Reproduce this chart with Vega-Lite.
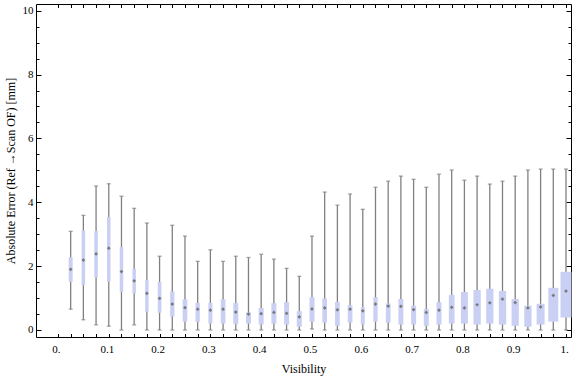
{
  "$schema": "https://vega.github.io/schema/vega-lite/v6.json",
  "width": 535,
  "height": 333,
  "autosize": {"type": "none"},
  "padding": {"left": 36, "top": 4, "right": 5, "bottom": 40},
  "background": "white",
  "config": {
    "view": {"stroke": "#000", "strokeWidth": 1},
    "axis": {
      "grid": false,
      "domain": false,
      "labelFont": "Liberation Serif",
      "titleFont": "Liberation Serif",
      "labelFontSize": 11,
      "titleFontSize": 12,
      "labelColor": "#000",
      "titleColor": "#000",
      "titleFontWeight": "normal",
      "tickColor": "#000",
      "tickWidth": 1
    }
  },
  "data": {
    "values": [
      {"x": 0.025, "lo": 0.65, "q1": 1.51, "med": 1.90, "q3": 2.28, "hi": 3.09, "n": 400},
      {"x": 0.05, "lo": 0.32, "q1": 1.40, "med": 2.19, "q3": 3.12, "hi": 3.59, "n": 350},
      {"x": 0.075, "lo": 0.16, "q1": 1.64, "med": 2.38, "q3": 3.10, "hi": 4.51, "n": 350},
      {"x": 0.1, "lo": 0.12, "q1": 1.51, "med": 2.56, "q3": 3.54, "hi": 4.58, "n": 350},
      {"x": 0.125, "lo": 0, "q1": 1.20, "med": 1.83, "q3": 2.60, "hi": 4.19, "n": 350},
      {"x": 0.15, "lo": 0.16, "q1": 1.14, "med": 1.54, "q3": 1.92, "hi": 3.81, "n": 350},
      {"x": 0.175, "lo": 0, "q1": 0.57, "med": 1.15, "q3": 1.57, "hi": 3.35, "n": 350},
      {"x": 0.2, "lo": 0, "q1": 0.54, "med": 0.99, "q3": 1.50, "hi": 2.31, "n": 370},
      {"x": 0.225, "lo": 0, "q1": 0.42, "med": 0.81, "q3": 1.21, "hi": 3.28, "n": 430},
      {"x": 0.25, "lo": 0, "q1": 0.26, "med": 0.70, "q3": 0.96, "hi": 2.94, "n": 470},
      {"x": 0.275, "lo": 0, "q1": 0.25, "med": 0.65, "q3": 0.85, "hi": 2.15, "n": 430},
      {"x": 0.3, "lo": 0, "q1": 0.20, "med": 0.62, "q3": 0.85, "hi": 2.51, "n": 400},
      {"x": 0.325, "lo": 0, "q1": 0.20, "med": 0.65, "q3": 0.96, "hi": 2.15, "n": 470},
      {"x": 0.35, "lo": 0, "q1": 0.18, "med": 0.56, "q3": 0.84, "hi": 2.31, "n": 500},
      {"x": 0.375, "lo": 0, "q1": 0.20, "med": 0.50, "q3": 0.55, "hi": 2.27, "n": 500},
      {"x": 0.4, "lo": 0, "q1": 0.17, "med": 0.51, "q3": 0.69, "hi": 2.37, "n": 500},
      {"x": 0.425, "lo": 0, "q1": 0.20, "med": 0.55, "q3": 0.84, "hi": 2.22, "n": 500},
      {"x": 0.45, "lo": 0, "q1": 0.17, "med": 0.52, "q3": 0.87, "hi": 1.93, "n": 500},
      {"x": 0.475, "lo": 0, "q1": 0.10, "med": 0.41, "q3": 0.59, "hi": 1.68, "n": 500},
      {"x": 0.5, "lo": 0.03, "q1": 0.26, "med": 0.66, "q3": 1.03, "hi": 2.94, "n": 500},
      {"x": 0.525, "lo": 0, "q1": 0.23, "med": 0.69, "q3": 0.99, "hi": 4.32, "n": 470},
      {"x": 0.55, "lo": 0, "q1": 0.13, "med": 0.63, "q3": 0.88, "hi": 3.91, "n": 470},
      {"x": 0.575, "lo": 0, "q1": 0.23, "med": 0.65, "q3": 0.78, "hi": 4.26, "n": 470},
      {"x": 0.6, "lo": 0, "q1": 0.17, "med": 0.60, "q3": 0.72, "hi": 3.78, "n": 400},
      {"x": 0.625, "lo": 0, "q1": 0.26, "med": 0.81, "q3": 1.03, "hi": 4.47, "n": 430},
      {"x": 0.65, "lo": 0, "q1": 0.23, "med": 0.75, "q3": 0.83, "hi": 4.66, "n": 470},
      {"x": 0.675, "lo": 0, "q1": 0.17, "med": 0.74, "q3": 0.97, "hi": 4.82, "n": 500},
      {"x": 0.7, "lo": 0, "q1": 0.17, "med": 0.64, "q3": 0.76, "hi": 4.72, "n": 500},
      {"x": 0.725, "lo": 0, "q1": 0.13, "med": 0.55, "q3": 0.66, "hi": 4.47, "n": 500},
      {"x": 0.75, "lo": 0, "q1": 0.17, "med": 0.62, "q3": 0.87, "hi": 4.88, "n": 500},
      {"x": 0.775, "lo": 0, "q1": 0.20, "med": 0.71, "q3": 1.10, "hi": 5.01, "n": 570},
      {"x": 0.8, "lo": 0, "q1": 0.20, "med": 0.69, "q3": 1.19, "hi": 4.69, "n": 700},
      {"x": 0.825, "lo": 0, "q1": 0.17, "med": 0.79, "q3": 1.25, "hi": 4.82, "n": 730},
      {"x": 0.85, "lo": 0, "q1": 0.20, "med": 0.85, "q3": 1.29, "hi": 4.57, "n": 730},
      {"x": 0.875, "lo": 0, "q1": 0.17, "med": 0.97, "q3": 1.22, "hi": 4.66, "n": 730},
      {"x": 0.9, "lo": 0, "q1": 0.13, "med": 0.86, "q3": 0.97, "hi": 4.82, "n": 730},
      {"x": 0.925, "lo": 0, "q1": 0.10, "med": 0.69, "q3": 0.76, "hi": 5.01, "n": 730},
      {"x": 0.95, "lo": 0, "q1": 0.17, "med": 0.72, "q3": 0.82, "hi": 5.04, "n": 800},
      {"x": 0.975, "lo": 0, "q1": 0.26, "med": 1.08, "q3": 1.32, "hi": 5.04, "n": 1000},
      {"x": 1.0, "lo": 0, "q1": 0.39, "med": 1.22, "q3": 1.82, "hi": 5.04, "n": 1100}
    ]
  },
  "layer": [
    {
      "mark": {"type": "rule", "color": "#808080", "strokeWidth": 1.3},
      "encoding": {
        "x": {
          "field": "x", "type": "quantitative",
          "scale": {"domain": [-0.0334, 1.0], "nice": false, "zero": false},
          "axis": {
            "orient": "bottom",
            "values": [0, 0.1, 0.2, 0.3, 0.4, 0.5, 0.6, 0.7, 0.8, 0.9, 1.0],
            "ticks": false,
            "labelExpr": "datum.value == 0 ? '0.' : (datum.value == 1 ? '1.' : format(datum.value, '.1f'))",
            "labelPadding": 6,
            "labelOffset": -2,
            "labelFlush": false,
            "labelOverlap": false,
            "title": "Visibility",
            "titlePadding": 9
          }
        },
        "y": {
          "field": "lo", "type": "quantitative",
          "scale": {"domain": [-0.22, 10.21], "nice": false, "zero": false},
          "axis": {
            "orient": "left",
            "values": [0, 2, 4, 6, 8, 10],
            "ticks": false,
            "labelPadding": 3,
            "labelFlush": false,
            "labelOverlap": false,
            "title": "Absolute Error (Ref →Scan OF) [mm]",
            "titlePadding": 5
          }
        },
        "y2": {"field": "hi"}
      }
    },
    {
      "mark": {"type": "tick", "orient": "horizontal", "color": "#808080", "size": 4, "thickness": 1.3},
      "encoding": {
        "x": {
          "field": "x", "type": "quantitative",
          "axis": {
            "orient": "bottom",
            "values": [0, 0.025, 0.05, 0.075, 0.1, 0.125, 0.15, 0.175, 0.2, 0.225, 0.25, 0.275, 0.3, 0.325, 0.35, 0.375, 0.4, 0.425, 0.45, 0.475, 0.5, 0.525, 0.55, 0.575, 0.6, 0.625, 0.65, 0.675, 0.7, 0.725, 0.75, 0.775, 0.8, 0.825, 0.85, 0.875, 0.9, 0.925, 0.95, 0.975, 1.0],
            "labels": false,
            "tickSize": -3.5,
            "title": null
          }
        },
        "y": {
          "field": "lo", "type": "quantitative",
          "axis": {
            "orient": "left",
            "values": [0, 0.5, 1, 1.5, 2, 2.5, 3, 3.5, 4, 4.5, 5, 5.5, 6, 6.5, 7, 7.5, 8, 8.5, 9, 9.5, 10],
            "labels": false,
            "tickSize": {"condition": {"test": "datum.value % 2 === 0", "value": -5}, "value": -3},
            "title": null
          }
        }
      }
    },
    {
      "mark": {"type": "tick", "orient": "horizontal", "color": "#808080", "size": 4, "thickness": 1.3},
      "encoding": {
        "x": {
          "field": "x", "type": "quantitative",
          "axis": {
            "orient": "top",
            "values": [0, 0.025, 0.05, 0.075, 0.1, 0.125, 0.15, 0.175, 0.2, 0.225, 0.25, 0.275, 0.3, 0.325, 0.35, 0.375, 0.4, 0.425, 0.45, 0.475, 0.5, 0.525, 0.55, 0.575, 0.6, 0.625, 0.65, 0.675, 0.7, 0.725, 0.75, 0.775, 0.8, 0.825, 0.85, 0.875, 0.9, 0.925, 0.95, 0.975, 1.0],
            "labels": false,
            "tickSize": -3.5,
            "title": null
          }
        },
        "y": {
          "field": "hi", "type": "quantitative",
          "axis": {
            "orient": "right",
            "values": [0, 0.5, 1, 1.5, 2, 2.5, 3, 3.5, 4, 4.5, 5, 5.5, 6, 6.5, 7, 7.5, 8, 8.5, 9, 9.5, 10],
            "labels": false,
            "tickSize": {"condition": {"test": "datum.value % 2 === 0", "value": -5}, "value": -3},
            "title": null
          }
        }
      }
    },
    {
      "mark": {"type": "bar", "color": "#cad0f3"},
      "encoding": {
        "x": {"field": "x", "type": "quantitative", "axis": null},
        "y": {"field": "q1", "type": "quantitative", "axis": null},
        "y2": {"field": "q3"},
        "size": {"field": "n", "type": "quantitative", "scale": {"domain": [0, 1000], "range": [0, 10]}, "legend": null}
      }
    },
    {
      "mark": {"type": "point", "shape": "diamond", "filled": true, "color": "#6f6f6f", "size": 14, "opacity": 0.9},
      "encoding": {
        "x": {"field": "x", "type": "quantitative", "axis": null},
        "y": {"field": "med", "type": "quantitative", "axis": null}
      }
    }
  ],
  "resolve": {"axis": {"x": "independent", "y": "independent"}}
}
